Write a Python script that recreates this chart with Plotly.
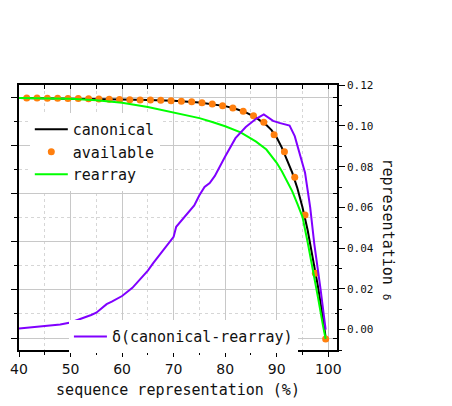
import plotly.graph_objects as go

# --- data -------------------------------------------------------------
canon_x = [40, 45, 50, 55, 60, 65, 70, 75, 78, 80, 82, 84, 86, 88, 89, 90,
           91, 92, 93, 94, 95, 96, 97, 98, 99, 99.5]
canon_y = [1.000, 0.999, 0.998, 0.996, 0.994, 0.991, 0.988, 0.981, 0.973,
           0.966, 0.955, 0.940, 0.918, 0.887, 0.866, 0.835, 0.793, 0.745,
           0.690, 0.625, 0.545, 0.450, 0.340, 0.215, 0.080, 0.002]

avail_x = [41.5, 43.5, 45.5, 47.5, 49.5, 51.5, 53.5, 55.5, 57.5, 59.5,
           61.5, 63.5, 65.5, 67.5, 69.5, 71.5, 73.5, 75.5, 77.5, 79.5,
           81.5, 83.5, 85.5, 87.5, 89.5, 91.5, 93.5, 95.5, 97.5, 99.5]
avail_y = [1.000, 1.000, 0.999, 0.999, 0.998, 0.998, 0.997, 0.996, 0.995,
           0.994, 0.993, 0.992, 0.991, 0.990, 0.988, 0.986, 0.984, 0.980,
           0.975, 0.968, 0.958, 0.945, 0.926, 0.899, 0.847, 0.776, 0.670,
           0.512, 0.270, -0.004]

rearr_x = [40, 45, 50, 55, 60, 65, 70, 72.5, 75, 77.5, 80, 83, 86, 88, 89,
           90, 91, 92, 93, 94, 95, 96, 97, 98, 99, 99.5]
rearr_y = [1.000, 0.999, 0.997, 0.990, 0.980, 0.962, 0.938, 0.928, 0.916,
           0.900, 0.882, 0.857, 0.818, 0.785, 0.758, 0.730, 0.695, 0.655,
           0.612, 0.560, 0.505, 0.400, 0.290, 0.170, 0.050, -0.004]

delta_x = [40, 42, 44, 46, 48, 50, 52, 54, 55, 56, 57, 58, 60, 62, 64, 65,
           66, 68, 70, 70.5, 72, 74, 75, 76, 77, 78, 80, 82, 84, 86, 87.5,
           88.5, 89.3, 90.5, 92.5, 93.5, 94.5, 95.5, 96.5, 97.3, 98.5, 99.5]
delta_y = [0.0006, 0.0010, 0.0014, 0.0019, 0.0025, 0.0035, 0.0052, 0.0072,
           0.0083, 0.0105, 0.0125, 0.0137, 0.0165, 0.0205, 0.0260, 0.0290,
           0.0325, 0.0390, 0.0456, 0.0505, 0.0550, 0.0610, 0.0660, 0.0700,
           0.0720, 0.0755, 0.0850, 0.0940, 0.0995, 0.1035, 0.1057, 0.1040,
           0.1025, 0.1015, 0.1002, 0.0950, 0.0860, 0.0770, 0.0600, 0.0420,
           0.0200, 0.0000]

MONO = "DejaVu Sans Mono"
SANS = "DejaVu Sans"
GRID = "#c8c8c8"
MINOR_GRID = "#d6d6d6"

fig = go.Figure()
fig.add_trace(go.Scatter(x=canon_x, y=canon_y, mode="lines", name="canonical",
                         line=dict(color="black", width=2), legend="legend"))
fig.add_trace(go.Scatter(x=avail_x, y=avail_y, mode="markers", name="available",
                         marker=dict(color="#ff7f0e", size=7), legend="legend"))
fig.add_trace(go.Scatter(x=rearr_x, y=rearr_y, mode="lines", name="rearray",
                         line=dict(color="#00ff00", width=2), legend="legend"))
fig.add_trace(go.Scatter(x=delta_x, y=delta_y, mode="lines",
                         name="δ(canonical-rearray)",
                         line=dict(color="#8000ff", width=2),
                         yaxis="y2", legend="legend2"))
# empty trace that attaches the tick-only frame axes (top / right-inner)
fig.add_trace(go.Scatter(x=[], y=[], xaxis="x2", yaxis="y3",
                         showlegend=False, hoverinfo="skip"))

XR = [40, 101.7]
YL = [-0.05, 1.054]

fig.update_layout(
    width=452, height=406,
    margin=dict(l=10, r=115, t=85, b=56),
    paper_bgcolor="white", plot_bgcolor="white",
    xaxis=dict(
        range=XR, tick0=40, dtick=10, ticks="outside", ticklen=5,
        tickcolor="black", tickwidth=1,
        showline=True, linecolor="black", linewidth=1.5,
        showgrid=True, gridcolor=GRID, gridwidth=1, zeroline=False,
        minor=dict(dtick=5, ticks="outside", ticklen=3, tickcolor="black",
                   showgrid=True, gridcolor=MINOR_GRID, griddash="dot"),
        tickfont=dict(family=SANS, size=14, color="#111"),
        title=dict(text="sequence representation (%)",
                   font=dict(family=MONO, size=15, color="#111"), standoff=9),
    ),
    xaxis2=dict(
        range=XR, overlaying="x", side="top", tick0=40, dtick=5,
        ticks="inside", ticklen=4, tickcolor="black",
        showticklabels=False, showgrid=False, zeroline=False,
        showline=True, linecolor="black", linewidth=1.5,
    ),
    yaxis=dict(
        range=YL, tick0=0, dtick=0.2, ticks="outside", ticklen=6,
        tickcolor="black", showticklabels=False,
        showline=True, linecolor="black", linewidth=1.5,
        showgrid=True, gridcolor=GRID, gridwidth=1, zeroline=False,
        minor=dict(dtick=0.1, ticks="outside", ticklen=3, tickcolor="black",
                   showgrid=True, gridcolor=MINOR_GRID, griddash="dot"),
    ),
    yaxis2=dict(
        range=[-0.01, 0.1201], overlaying="y", side="right",
        tick0=0, dtick=0.02, tickformat=".2f",
        ticks="outside", ticklen=6, tickcolor="black",
        minor=dict(dtick=0.01, ticks="outside", ticklen=3, tickcolor="black"),
        showgrid=False, zeroline=False,
        showline=True, linecolor="black", linewidth=1.5,
        tickfont=dict(family=MONO, size=11, color="#111"),
    ),
    yaxis3=dict(
        range=YL, overlaying="y", side="right", anchor="x",
        tick0=0, dtick=0.2, ticks="inside", ticklen=4, tickcolor="black",
        minor=dict(dtick=0.1, ticks="inside", ticklen=2, tickcolor="black"),
        showticklabels=False, showgrid=False, zeroline=False,
    ),
    legend=dict(
        x=0.034, y=0.894, xanchor="left", yanchor="top",
        bgcolor="white", borderwidth=0, itemwidth=33,
        font=dict(family=MONO, size=15, color="#111"),
        tracegroupgap=0,
    ),
    legend2=dict(
        x=0.157, y=0.05, xanchor="left", yanchor="middle",
        bgcolor="white", borderwidth=0, itemwidth=33,
        font=dict(family=MONO, size=15, color="#111"),
    ),
    annotations=[dict(
        text="representation <span style='font-size:11px'>δ</span>",
        xref="paper", yref="paper", x=1.162, y=0.457,
        xanchor="center", yanchor="middle", textangle=90, showarrow=False,
        font=dict(family=MONO, size=15, color="#111"),
    )],
)

fig.write_html("out.html")
